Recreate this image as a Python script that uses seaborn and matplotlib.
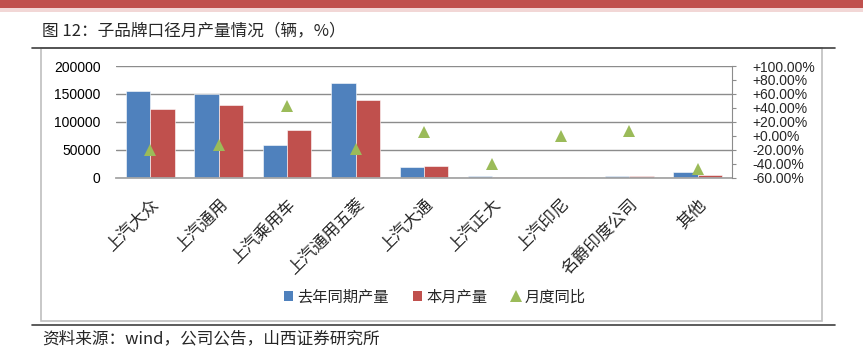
import numpy as np
import pandas as pd
import seaborn as sns
import matplotlib.pyplot as plt
from matplotlib.patches import Rectangle, Patch
from matplotlib.lines import Line2D
from matplotlib.ticker import FixedLocator, FuncFormatter

# 数据
brands = ['上汽大众', '上汽通用', '上汽乘用车', '上汽通用五菱', '上汽大通',
          '上汽正大', '上汽印尼', '名爵印度公司', '其他']
last_year = [155000, 150000, 59000, 169000, 19700, 3000, 0, 2500, 9700]
this_month = [123500, 130200, 85000, 139000, 21000, 1200, 1200, 3000, 4300]
yoy = [-21.0, -12.7, 42.3, -18.6, 5.2, -40.0, 0.0, 6.6, -47.8]
series_names = ['去年同期产量', '本月产量', '月度同比']

sns.set_style('white')
plt.rcParams['font.family'] = ['Liberation Sans', 'Noto Sans CJK SC', 'DejaVu Sans']
plt.rcParams['axes.unicode_minus'] = False
cjk = ['Noto Sans CJK SC', 'DejaVu Sans']

blue, red, green = '#4F81BD', '#C0504D', '#9BBB59'
grid_c = '#8C8C8C'

df = pd.DataFrame({
    '品牌': brands * 2,
    '产量': last_year + this_month,
    '系列': [series_names[0]] * len(brands) + [series_names[1]] * len(brands),
})

W, H = 863, 355
fig = plt.figure(figsize=(W / 100, H / 100), dpi=100)
ax = fig.add_axes([116 / W, 1 - 177.7 / H, (732 - 116) / W, (177.7 - 66) / H])

sns.barplot(data=df, x='品牌', y='产量', hue='系列', palette=[blue, red],
            saturation=1, width=0.71, gap=0, edgecolor='white', linewidth=0.4,
            legend=False, ax=ax, zorder=2)
ax.set_ylim(0, 200000)
ax.yaxis.set_major_locator(FixedLocator([0, 50000, 100000, 150000, 200000]))
ax.set_yticklabels(['0', '50000', '100000', '150000', '200000'])
ax.grid(axis='y', color=grid_c, linewidth=1)
ax.set_axisbelow(True)
ax.set_xlabel('')
ax.set_ylabel('')
for s in ['left', 'top', 'right']:
    ax.spines[s].set_visible(False)
ax.spines['bottom'].set_color('#A6A6A6')
ax.spines['bottom'].set_linewidth(1.3)
ax.tick_params(axis='y', length=0, pad=11, labelsize=10, colors='black')
ax.tick_params(axis='x', length=0, pad=13)
ax.set_xticks(range(len(brands)))
ax.set_xticklabels(brands, rotation=45, ha='right', va='top',
                   rotation_mode='anchor', fontsize=12, family=cjk)

ax2 = ax.twinx()
sns.pointplot(x=brands, y=yoy, ax=ax2, color=green, marker='^',
              linestyle='none', markersize=8, markeredgewidth=0, errorbar=None)
ax2.set_ylim(-60, 100)
ax2.yaxis.set_major_locator(FixedLocator(np.arange(-60, 101, 20)))
ax2.yaxis.set_major_formatter(FuncFormatter(
    lambda v, p: ('+' if v >= 0 else '') + f'{v:.2f}%'))
for s in ['left', 'top', 'bottom']:
    ax2.spines[s].set_visible(False)
ax2.spines['right'].set_color(grid_c)
ax2.tick_params(axis='y', direction='out', length=3, width=0.8, color=grid_c,
                pad=12, labelsize=10)
ax2.set_ylabel('')
ax2.set_xlabel('')

# 图例
handles = [Patch(facecolor=blue, edgecolor='none'),
           Patch(facecolor=red, edgecolor='none'),
           Line2D([], [], linestyle='none', marker='^', color=green,
                  markersize=8, markeredgewidth=0)]
fig.legend(handles, series_names, loc='center', bbox_to_anchor=(435 / W, 1 - 297 / H),
           ncol=3, frameon=False, handlelength=0.6, handleheight=0.6,
           handletextpad=0.25, columnspacing=1.6, prop={'family': cjk, 'size': 11})

# 页面装饰
fig.patches.append(Rectangle((0, 1 - 7.5 / H), 1, 7.5 / H, transform=fig.transFigure,
                             facecolor='#C0504D', edgecolor='none'))
fig.patches.append(Rectangle((0, 1 - 12 / H), 1, 4.5 / H, transform=fig.transFigure,
                             facecolor='#F2D7D6', edgecolor='none'))
fig.patches.append(Rectangle((40.7 / W, 1 - 320.7 / H), (822 - 40.7) / W, (320.7 - 48) / H,
                             transform=fig.transFigure, facecolor='none',
                             edgecolor='#BFBFBF', linewidth=1.2))
fig.add_artist(Line2D([32 / W, 835 / W], [1 - 48 / H] * 2, color='#404040', linewidth=1.2))
fig.add_artist(Line2D([32 / W, 835 / W], [1 - 325 / H] * 2, color='#404040', linewidth=1.2))

fig.text(42 / W, 1 - 31 / H, '图 12：子品牌口径月产量情况（辆，%）', fontsize=12,
         va='center', ha='left', family=cjk)
fig.text(42 / W, 1 - 339 / H, '资料来源：wind，公司公告，山西证券研究所', fontsize=12,
         va='center', ha='left', family=cjk)

fig.savefig('out.png', dpi=100)
